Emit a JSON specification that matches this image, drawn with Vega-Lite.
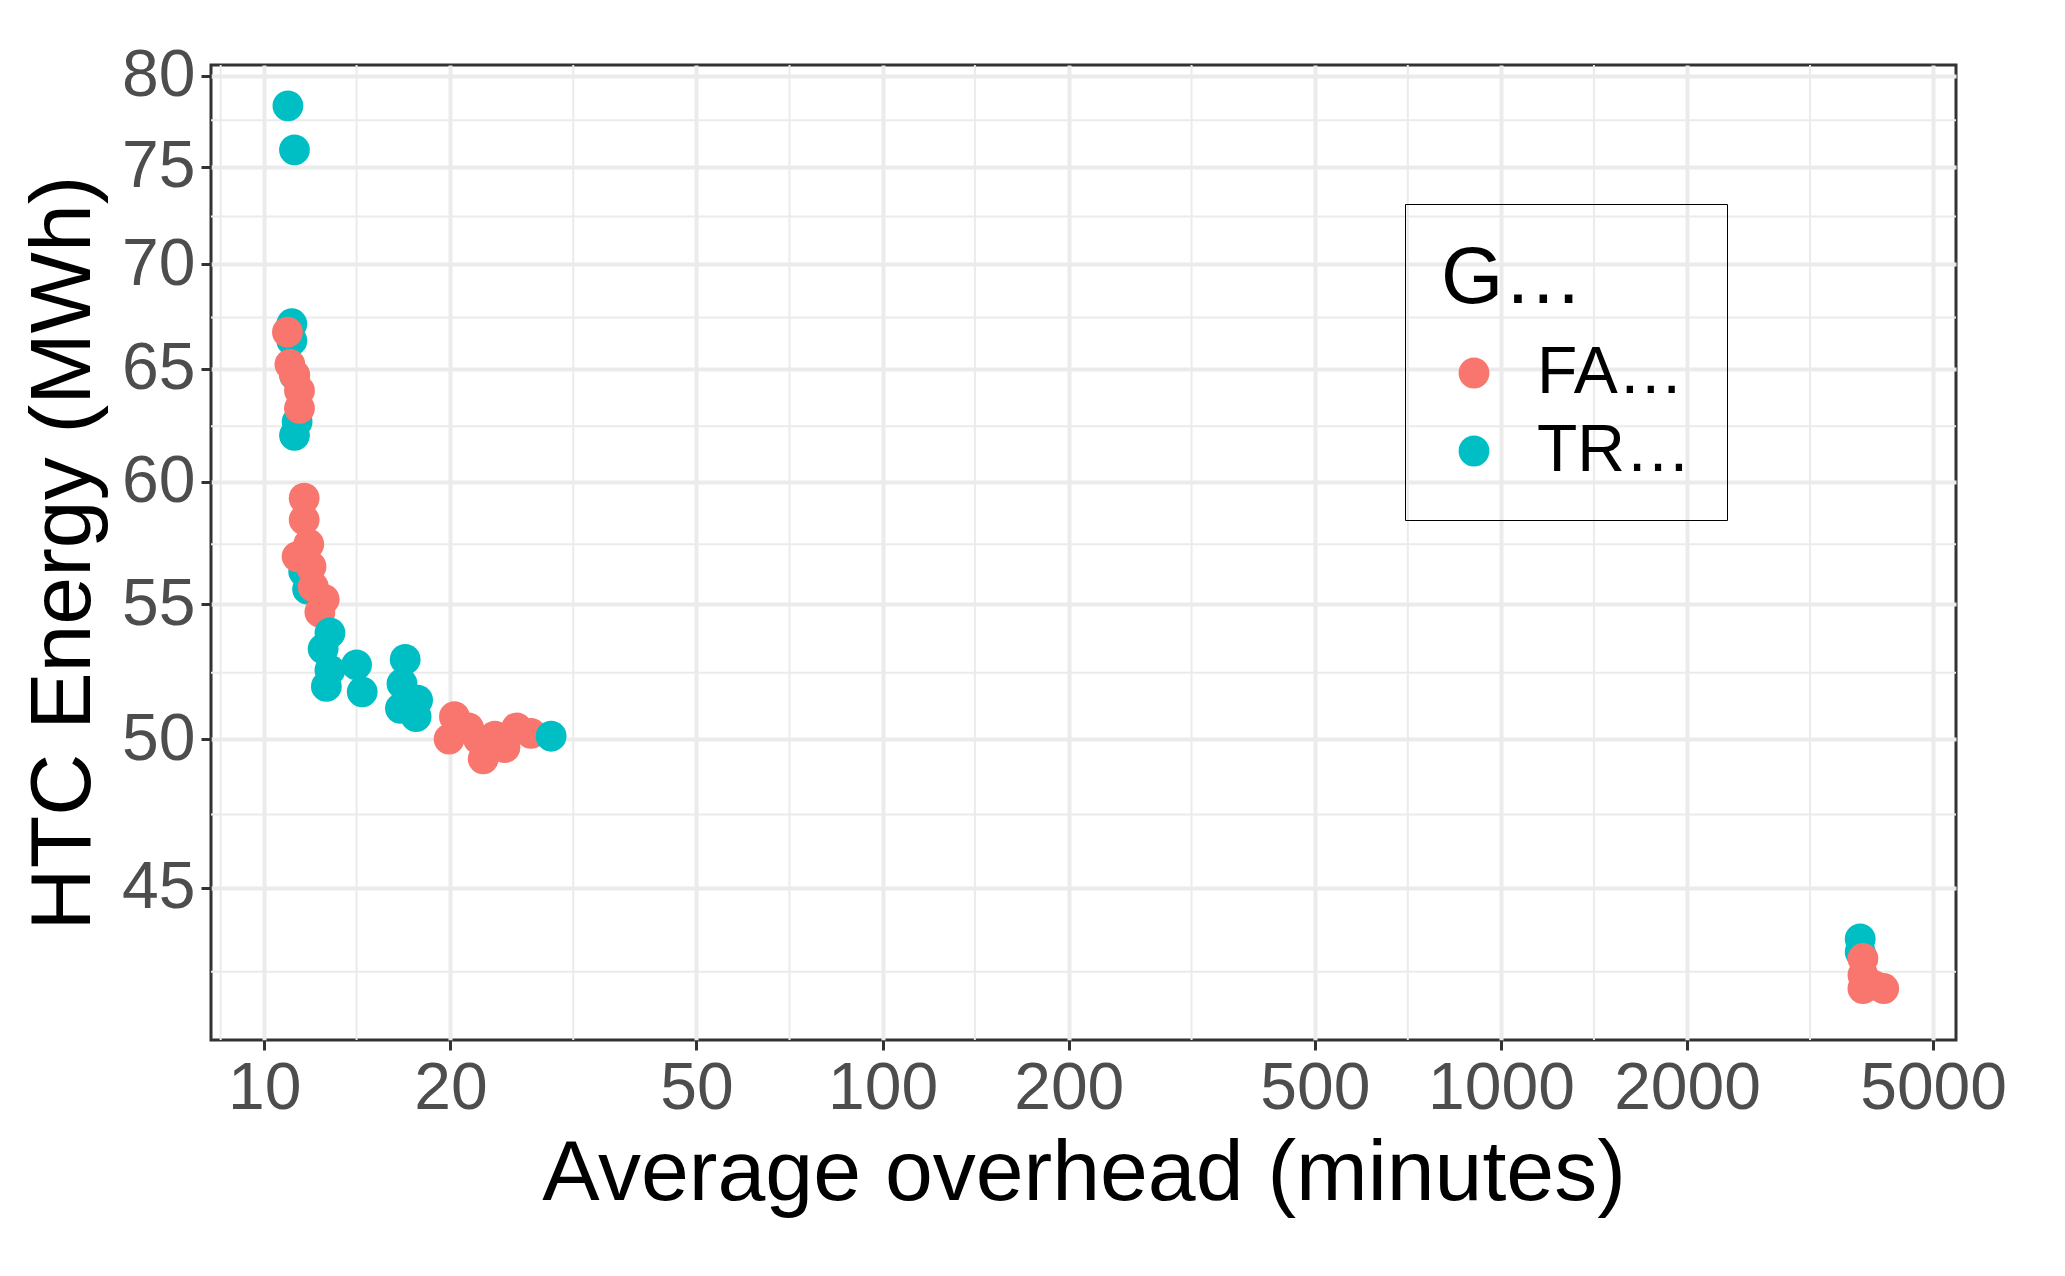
{
  "$schema": "https://vega.github.io/schema/vega-lite/v6.json",
  "width": 1745,
  "height": 975,
  "padding": {"left": 20, "top": 42, "right": 40, "bottom": 10},
  "background": "white",
  "config": {
    "font": "Liberation Sans",
    "view": {"stroke": "#333333", "strokeWidth": 3},
    "legend": {"strokeColor": "black", "padding": 36}
  },
  "layer": [
    {
      "data": {"values": [
        {"v": 8.5}, {"v": 14.1}, {"v": 31.6}, {"v": 70.7}, {"v": 141}, {"v": 316}, {"v": 707}, {"v": 1414}, {"v": 3162}
      ]},
      "mark": {"type": "rule", "color": "#EBEBEB", "strokeWidth": 2},
      "encoding": {"x": {"field": "v", "type": "quantitative", "scale": {"type": "log", "domain": [8.2, 5445], "nice": false}}}
    },
    {
      "data": {"values": [
        {"v": 42.4}, {"v": 47.4}, {"v": 52.4}, {"v": 57.4}, {"v": 62.4}, {"v": 67.4}, {"v": 72.4}, {"v": 77.5}
      ]},
      "mark": {"type": "rule", "color": "#EBEBEB", "strokeWidth": 2},
      "encoding": {"y": {"field": "v", "type": "quantitative", "scale": {"type": "log", "domain": [40.4, 80.6], "nice": false}}}
    },
    {
      "data": {"values": [
        {"x": 10.92, "y": 78.3, "g": "TRUE"},
        {"x": 11.19, "y": 75.9, "g": "TRUE"},
        {"x": 11.08, "y": 67.1, "g": "TRUE"},
        {"x": 11.08, "y": 66.3, "g": "TRUE"},
        {"x": 11.19, "y": 64.7, "g": "TRUE"},
        {"x": 11.3, "y": 62.6, "g": "TRUE"},
        {"x": 11.19, "y": 62.0, "g": "TRUE"},
        {"x": 10.9, "y": 66.7, "g": "FALSE"},
        {"x": 11.0, "y": 65.2, "g": "FALSE"},
        {"x": 11.2, "y": 64.7, "g": "FALSE"},
        {"x": 11.4, "y": 64.0, "g": "FALSE"},
        {"x": 11.4, "y": 63.2, "g": "FALSE"},
        {"x": 11.58, "y": 56.3, "g": "TRUE"},
        {"x": 11.75, "y": 55.6, "g": "TRUE"},
        {"x": 11.6, "y": 59.3, "g": "FALSE"},
        {"x": 11.6, "y": 58.4, "g": "FALSE"},
        {"x": 11.8, "y": 57.4, "g": "FALSE"},
        {"x": 11.3, "y": 56.9, "g": "FALSE"},
        {"x": 11.9, "y": 56.5, "g": "FALSE"},
        {"x": 12.0, "y": 55.7, "g": "FALSE"},
        {"x": 12.5, "y": 55.2, "g": "FALSE"},
        {"x": 12.3, "y": 54.7, "g": "FALSE"},
        {"x": 12.77, "y": 53.9, "g": "TRUE"},
        {"x": 12.45, "y": 53.3, "g": "TRUE"},
        {"x": 12.77, "y": 52.5, "g": "TRUE"},
        {"x": 12.6, "y": 51.9, "g": "TRUE"},
        {"x": 14.1, "y": 52.7, "g": "TRUE"},
        {"x": 14.4, "y": 51.7, "g": "TRUE"},
        {"x": 16.7, "y": 52.0, "g": "TRUE"},
        {"x": 16.9, "y": 52.9, "g": "TRUE"},
        {"x": 16.6, "y": 51.1, "g": "TRUE"},
        {"x": 17.7, "y": 51.4, "g": "TRUE"},
        {"x": 17.6, "y": 50.8, "g": "TRUE"},
        {"x": 20.3, "y": 50.8, "g": "FALSE"},
        {"x": 19.9, "y": 50.0, "g": "FALSE"},
        {"x": 21.4, "y": 50.4, "g": "FALSE"},
        {"x": 22.6, "y": 49.3, "g": "FALSE"},
        {"x": 23.6, "y": 50.1, "g": "FALSE"},
        {"x": 24.5, "y": 49.7, "g": "FALSE"},
        {"x": 25.6, "y": 50.4, "g": "FALSE"},
        {"x": 27.0, "y": 50.2, "g": "FALSE"},
        {"x": 22.2, "y": 50.0, "g": "FALSE"},
        {"x": 29.1, "y": 50.1, "g": "TRUE"},
        {"x": 3811, "y": 43.4, "g": "TRUE"},
        {"x": 3811, "y": 43.0, "g": "TRUE"},
        {"x": 3850, "y": 42.8, "g": "FALSE"},
        {"x": 3850, "y": 42.3, "g": "FALSE"},
        {"x": 3850, "y": 41.9, "g": "FALSE"},
        {"x": 4000, "y": 42.0, "g": "FALSE"},
        {"x": 4160, "y": 41.9, "g": "FALSE"}
      ]},
      "mark": {"type": "circle", "size": 950, "opacity": 1},
      "encoding": {
        "x": {
          "field": "x", "type": "quantitative",
          "scale": {"type": "log", "domain": [8.2, 5445], "nice": false},
          "axis": {
            "title": "Average overhead (minutes)",
            "values": [10, 20, 50, 100, 200, 500, 1000, 2000, 5000],
            "format": "d",
            "grid": true, "gridColor": "#EBEBEB", "gridWidth": 4,
            "domain": false,
            "tickColor": "#333333", "tickWidth": 3, "tickSize": 10,
            "labelFontSize": 66, "labelColor": "#4D4D4D", "labelPadding": 6,
            "labelFlush": false, "labelOverlap": false,
            "titleFontSize": 86, "titleFontWeight": "normal", "titleColor": "black", "titlePadding": 10
          }
        },
        "y": {
          "field": "y", "type": "quantitative",
          "scale": {"type": "log", "domain": [40.4, 80.6], "nice": false},
          "axis": {
            "title": "HTC Energy (MWh)",
            "values": [45, 50, 55, 60, 65, 70, 75, 80],
            "grid": true, "gridColor": "#EBEBEB", "gridWidth": 4,
            "domain": false,
            "tickColor": "#333333", "tickWidth": 3, "tickSize": 10,
            "labelFontSize": 66, "labelColor": "#4D4D4D", "labelPadding": 6,
            "labelFlush": false, "labelOverlap": false,
            "titleFontSize": 86, "titleFontWeight": "normal", "titleColor": "black", "titlePadding": 14
          }
        },
        "color": {
          "field": "g", "type": "nominal",
          "scale": {"domain": ["FALSE", "TRUE"], "range": ["#F8766D", "#00BFC4"]},
          "legend": {
            "title": "Gaussian",
            "orient": "none", "legendX": 1194, "legendY": 139,
            "titleFontSize": 80, "titleFontWeight": "normal", "titleColor": "black", "titlePadding": 20,
            "labelFontSize": 66, "labelColor": "black", "labelOffset": 30,
            "symbolSize": 950, "symbolType": "circle", "symbolStrokeWidth": 0,
            "rowPadding": 12
          }
        }
      }
    }
  ]
}
